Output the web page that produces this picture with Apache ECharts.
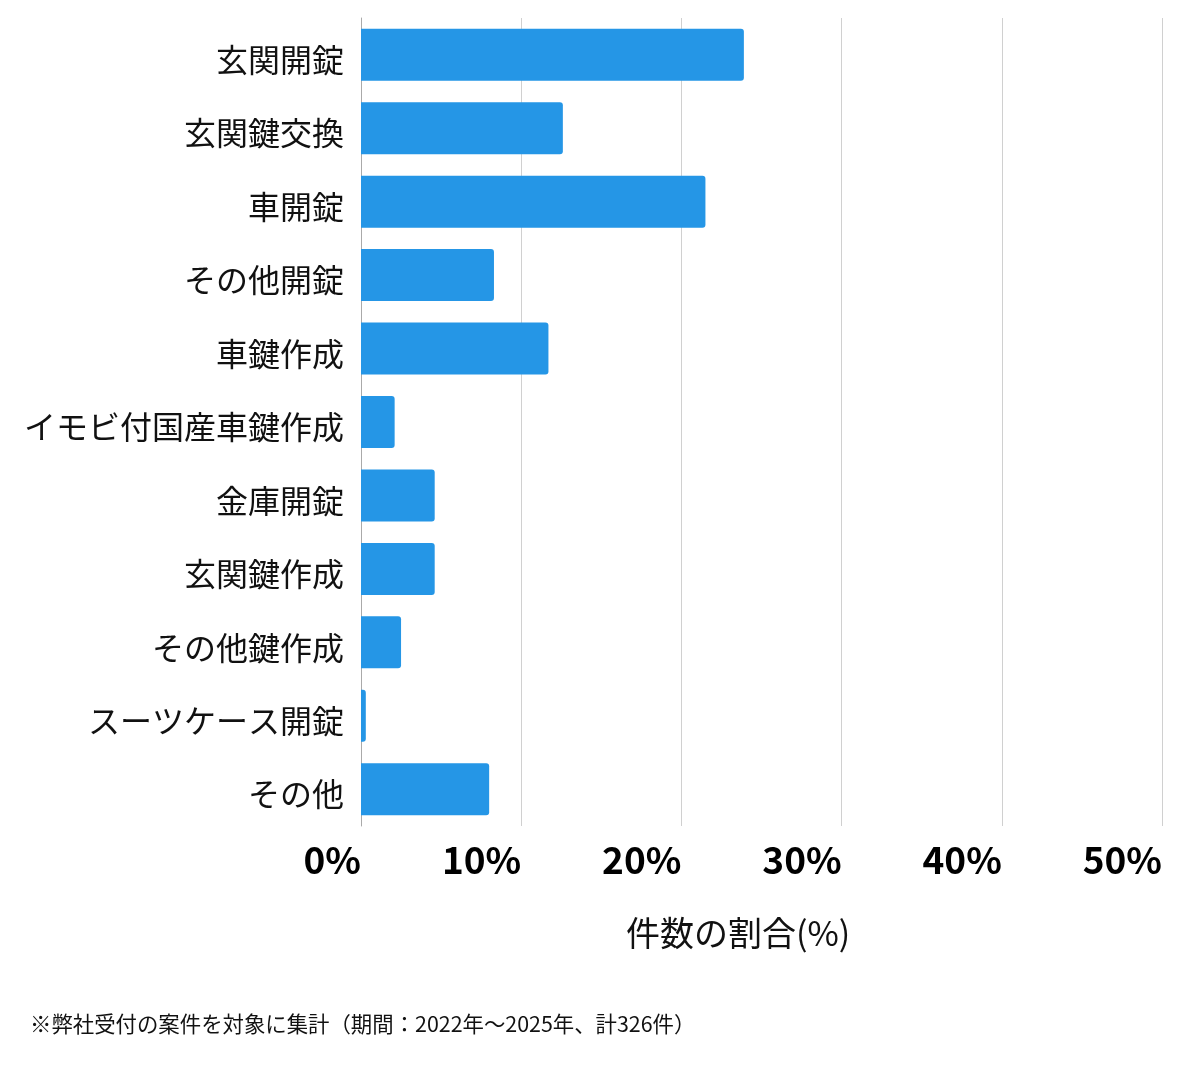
<!DOCTYPE html>
<html>
<head>
<meta charset="utf-8">
<script src="https://cdn.jsdelivr.net/npm/echarts@6/dist/echarts.min.js"></script>
<style>
html,body{margin:0;padding:0;background:#fff;}
#chart{width:1200px;height:1069px;}
</style>
</head>
<body>
<div id="chart"></div>
<script>
const categories = ['玄関開錠','玄関鍵交換','車開錠','その他開錠','車鍵作成','イモビ付国産車鍵作成','金庫開錠','玄関鍵作成','その他鍵作成','スーツケース開錠','その他'];
const shares = [23.9, 12.6, 21.5, 8.3, 11.7, 2.1, 4.6, 4.6, 2.5, 0.3, 8.0];
const xTicks = [0, 10, 20, 30, 40, 50];
const axisTitle = '件数の割合(%)';
const footnote = '※弊社受付の案件を対象に集計（期間：2022年～2025年、計326件）';

const FONT = '"Noto Sans CJK JP", "Noto Sans", sans-serif';
const chart = echarts.init(document.getElementById('chart'));
chart.setOption({
  backgroundColor: '#ffffff',
  animation: false,
  grid: { left: 361, right: 38, top: 18, bottom: 243, containLabel: false },
  xAxis: {
    type: 'value',
    min: xTicks[0],
    max: xTicks[xTicks.length - 1],
    interval: 10,
    axisLine: { show: false },
    axisTick: { show: false },
    splitLine: { lineStyle: { color: '#d0d0d0', width: 1 } },
    axisLabel: {
      formatter: '{value}%',
      fontFamily: FONT,
      fontSize: 37,
      fontWeight: 'bold',
      color: '#000',
      align: 'right',
      margin: 15
    }
  },
  yAxis: {
    type: 'category',
    inverse: true,
    data: categories,
    axisLine: { show: true, lineStyle: { color: '#aaaaaa', width: 1 } },
    axisTick: { show: false },
    axisLabel: {
      margin: 17,
      formatter: function (v) { return '{c|' + v + '}'; },
      rich: {
        c: { fontFamily: FONT, fontSize: 32, color: '#111', padding: [10, 0, 0, 0] }
      }
    }
  },
  series: [{
    type: 'bar',
    data: shares,
    barWidth: 52,
    itemStyle: { color: '#2596e6', borderRadius: [0, 3, 3, 0] }
  }],
  graphic: [
    {
      type: 'text',
      left: 626,
      top: 916,
      style: { text: axisTitle, font: '34px ' + FONT, fill: '#111' }
    },
    {
      type: 'text',
      left: 30,
      top: 1013,
      style: { text: footnote, font: '21.4px ' + FONT, fill: '#111' }
    }
  ]
});
</script>
</body>
</html>
